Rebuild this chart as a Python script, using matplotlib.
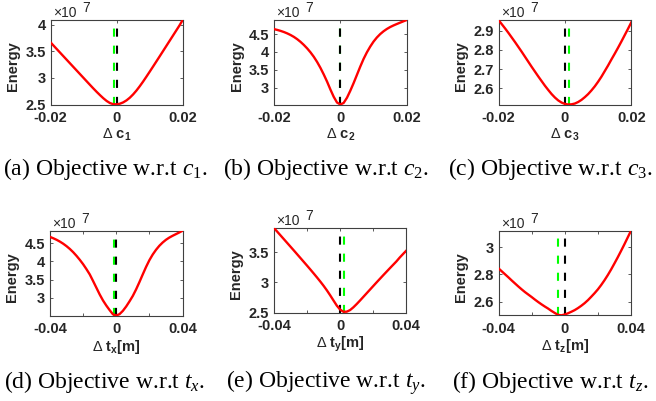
import matplotlib
matplotlib.use('Agg')
import matplotlib.pyplot as plt

W, H = 656, 401
plt.rcParams['mathtext.fontset'] = 'custom'
plt.rcParams['mathtext.rm'] = 'Liberation Serif'
plt.rcParams['mathtext.it'] = 'Liberation Serif:italic'
plt.rcParams['mathtext.bf'] = 'Liberation Sans:bold'
plt.rcParams['mathtext.sf'] = 'Liberation Sans'
plt.rcParams['axes.unicode_minus'] = False

# ---------------- data ----------------
c_grid = [-0.020, -0.019, -0.018, -0.017, -0.016, -0.015, -0.014, -0.013, -0.012, -0.011,
          -0.010, -0.009, -0.008, -0.007, -0.006, -0.005, -0.004, -0.003, -0.002, -0.001,
          0.000, 0.001, 0.002, 0.003, 0.004, 0.005, 0.006, 0.007, 0.008, 0.009,
          0.010, 0.011, 0.012, 0.013, 0.014, 0.015, 0.016, 0.017, 0.018, 0.019, 0.020]
t_grid = [-0.040, -0.038, -0.036, -0.034, -0.032, -0.030, -0.028, -0.026, -0.024, -0.022,
          -0.020, -0.018, -0.016, -0.014, -0.012, -0.010, -0.008, -0.006, -0.004, -0.002,
          0.000, 0.002, 0.004, 0.006, 0.008, 0.010, 0.012, 0.014, 0.016, 0.018,
          0.020, 0.022, 0.024, 0.026, 0.028, 0.030, 0.032, 0.034, 0.036, 0.038, 0.040]

energy_c1 = [3.670, 3.603, 3.536, 3.469, 3.402, 3.335, 3.268, 3.201, 3.134, 3.067,
             3.000, 2.933, 2.866, 2.800, 2.736, 2.675, 2.617, 2.566, 2.527, 2.506,
             2.503, 2.515, 2.540, 2.578, 2.628, 2.690, 2.762, 2.843, 2.930, 3.022,
             3.116, 3.211, 3.307, 3.403, 3.500, 3.597, 3.694, 3.791, 3.888, 3.985, 4.090]
energy_c2 = [4.640, 4.617, 4.590, 4.558, 4.520, 4.475, 4.422, 4.358, 4.283, 4.197,
             4.100, 3.990, 3.865, 3.720, 3.555, 3.370, 3.170, 2.950, 2.745, 2.585,
             2.530, 2.575, 2.720, 2.915, 3.130, 3.360, 3.590, 3.805, 3.990, 4.150,
             4.290, 4.405, 4.500, 4.578, 4.643, 4.697, 4.742, 4.782, 4.820, 4.858, 4.895]
energy_c3 = [2.955, 2.933, 2.911, 2.888, 2.864, 2.840, 2.815, 2.790, 2.764, 2.738,
             2.712, 2.687, 2.662, 2.638, 2.614, 2.592, 2.571, 2.553, 2.538, 2.527,
             2.520, 2.517, 2.518, 2.522, 2.530, 2.541, 2.555, 2.571, 2.590, 2.611,
             2.635, 2.661, 2.690, 2.719, 2.750, 2.780, 2.811, 2.843, 2.876, 2.909, 2.943]
energy_tx = [4.670, 4.632, 4.590, 4.540, 4.482, 4.415, 4.338, 4.250, 4.150, 4.040,
             3.920, 3.785, 3.640, 3.460, 3.275, 3.090, 2.925, 2.785, 2.660, 2.545,
             2.512, 2.550, 2.640, 2.760, 2.900, 3.050, 3.230, 3.430, 3.640, 3.845,
             4.030, 4.185, 4.315, 4.425, 4.515, 4.590, 4.650, 4.700, 4.745, 4.790, 4.840]
energy_ty = [3.900, 3.838, 3.776, 3.714, 3.652, 3.590, 3.528, 3.465, 3.402, 3.339,
             3.276, 3.212, 3.147, 3.081, 3.013, 2.942, 2.866, 2.784, 2.698, 2.613,
             2.548, 2.512, 2.514, 2.540, 2.586, 2.640, 2.698, 2.758, 2.818, 2.878,
             2.938, 2.998, 3.057, 3.116, 3.174, 3.232, 3.289, 3.346, 3.410, 3.468, 3.525]
energy_tz = [2.844, 2.822, 2.800, 2.778, 2.755, 2.733, 2.711, 2.690, 2.670, 2.652,
             2.634, 2.615, 2.597, 2.580, 2.564, 2.549, 2.532, 2.517, 2.503, 2.500,
             2.506, 2.515, 2.526, 2.538, 2.553, 2.570, 2.589, 2.611, 2.636, 2.662,
             2.690, 2.722, 2.757, 2.795, 2.836, 2.880, 2.925, 2.972, 3.020, 3.070, 3.120]

truth_x = [0.0, 0.0, 0.0, 0.0, 0.0, 0.0]
est_x = [-0.0009, 0.0, 0.0011, -0.0015, 0.0023, -0.0039]

xs = [c_grid, c_grid, c_grid, t_grid, t_grid, t_grid]
ys = [energy_c1, energy_c2, energy_c3, energy_tx, energy_ty, energy_tz]

xticks = [[-0.02, 0, 0.02]] * 3 + [[-0.04, -0.02, 0, 0.02, 0.04]] * 3
xticklabels = [['-0.02', '0', '0.02']] * 3 + [['-0.04', '', '0', '', '0.04']] * 3
yticks = [[2.5, 3, 3.5, 4], [3, 3.5, 4, 4.5], [2.6, 2.7, 2.8, 2.9],
          [3, 3.5, 4, 4.5], [2.5, 3, 3.5], [2.6, 2.8, 3]]
yticklabels = [['2.5', '3', '3.5', '4'], ['3', '3.5', '4', '4.5'], ['2.6', '2.7', '2.8', '2.9'],
               ['3', '3.5', '4', '4.5'], ['2.5', '3', '3.5'], ['2.6', '2.8', '3']]
xlabels = [r'$\mathsf{\Delta}$ $\mathbf{c_1}$', r'$\mathsf{\Delta}$ $\mathbf{c_2}$',
           r'$\mathsf{\Delta}$ $\mathbf{c_3}$', r'$\mathsf{\Delta}$ $\mathbf{t_x[m]}$',
           r'$\mathsf{\Delta}$ $\mathbf{t_y[m]}$', r'$\mathsf{\Delta}$ $\mathbf{t_z[m]}$']
captions = [r'(a) Objective w.r.t $c_1$.', r'(b) Objective w.r.t $c_2$.',
            r'(c) Objective w.r.t $c_3$.', r'(d) Objective w.r.t $t_x$.',
            r'(e) Objective w.r.t $t_y$.', r'(f) Objective w.r.t $t_z$.']

# ---------------- layout (pixels: left, top, right, bottom) ----------------
boxes = [(50.5, 20, 182.7, 104.5), (274, 20, 406.7, 104.5), (498.5, 20, 631.3, 104.5),
         (50, 230.7, 182.5, 315.5), (274, 228, 406.3, 312.5), (498.5, 230.7, 631, 315.3)]
cap_pos = [(105, 175), (326, 175), (550, 175), (105, 388), (326, 388), (550, 388)]

fig = plt.figure(figsize=(W / 100, H / 100), dpi=100)
frame_col = '#404040'
FS = 10.5
for i in range(6):
    l, t, r, b = boxes[i]
    w, h = r - l, b - t
    ax = fig.add_axes([l / W, 1 - b / H, w / W, h / H])
    x, y = xs[i], ys[i]
    ax.axvline(est_x[i], color=(0, 1, 0), lw=1.5, linestyle=(0, (3.9, 4.3)), zorder=2)
    ax.axvline(truth_x[i], color='black', lw=1.5, linestyle=(0, (3.9, 4.3)), zorder=3)
    ax.plot(x, y, color='red', lw=1.7, zorder=4)
    ax.set_xlim(x[0], x[-1])
    ax.set_ylim(min(y), max(y))
    ax.set_xticks(xticks[i])
    ax.set_xticklabels(xticklabels[i])
    ax.set_yticks(yticks[i])
    ax.set_yticklabels(yticklabels[i])
    ax.tick_params(direction='in', length=2.2, width=0.6, color=frame_col,
                   top=True, right=True, labelsize=FS)
    ax.tick_params(axis='x', pad=5)
    ax.tick_params(axis='y', pad=3.5)
    for lab in ax.get_xticklabels() + ax.get_yticklabels():
        lab.set_fontfamily('Liberation Sans')
        lab.set_fontweight('bold')
        lab.set_color('#262626')
    for s in ax.spines.values():
        s.set_color(frame_col)
        s.set_linewidth(0.8)
    ax.set_ylabel('Energy', fontsize=FS, fontweight='bold', family='Liberation Sans',
                  va='center', color='#262626')
    ax.yaxis.set_label_coords(-37.5 / w, 1 - (h / 2 + 4) / h)
    ax.set_xlabel(xlabels[i], fontsize=FS, fontweight='bold', family='Liberation Sans',
                  va='top', color='#262626')
    ax.xaxis.set_label_coords(0.5, -22 / h)
    # exponent marker
    fig.text((l + 2.5) / W, 1 - (t - 7) / H, '\u00d710', fontsize=10, family='Liberation Sans',
             va='center', ha='left', color='#262626')
    fig.text((l + 31.5) / W, 1 - (t - 12) / H, '7', fontsize=10, family='Liberation Sans',
             va='center', ha='left', color='#262626')
    cx, cy = cap_pos[i]
    fig.text(cx / W, 1 - cy / H, captions[i], fontsize=17, family='Liberation Serif',
             ha='center', va='baseline', color='black')

fig.savefig('out.png', dpi=100)
